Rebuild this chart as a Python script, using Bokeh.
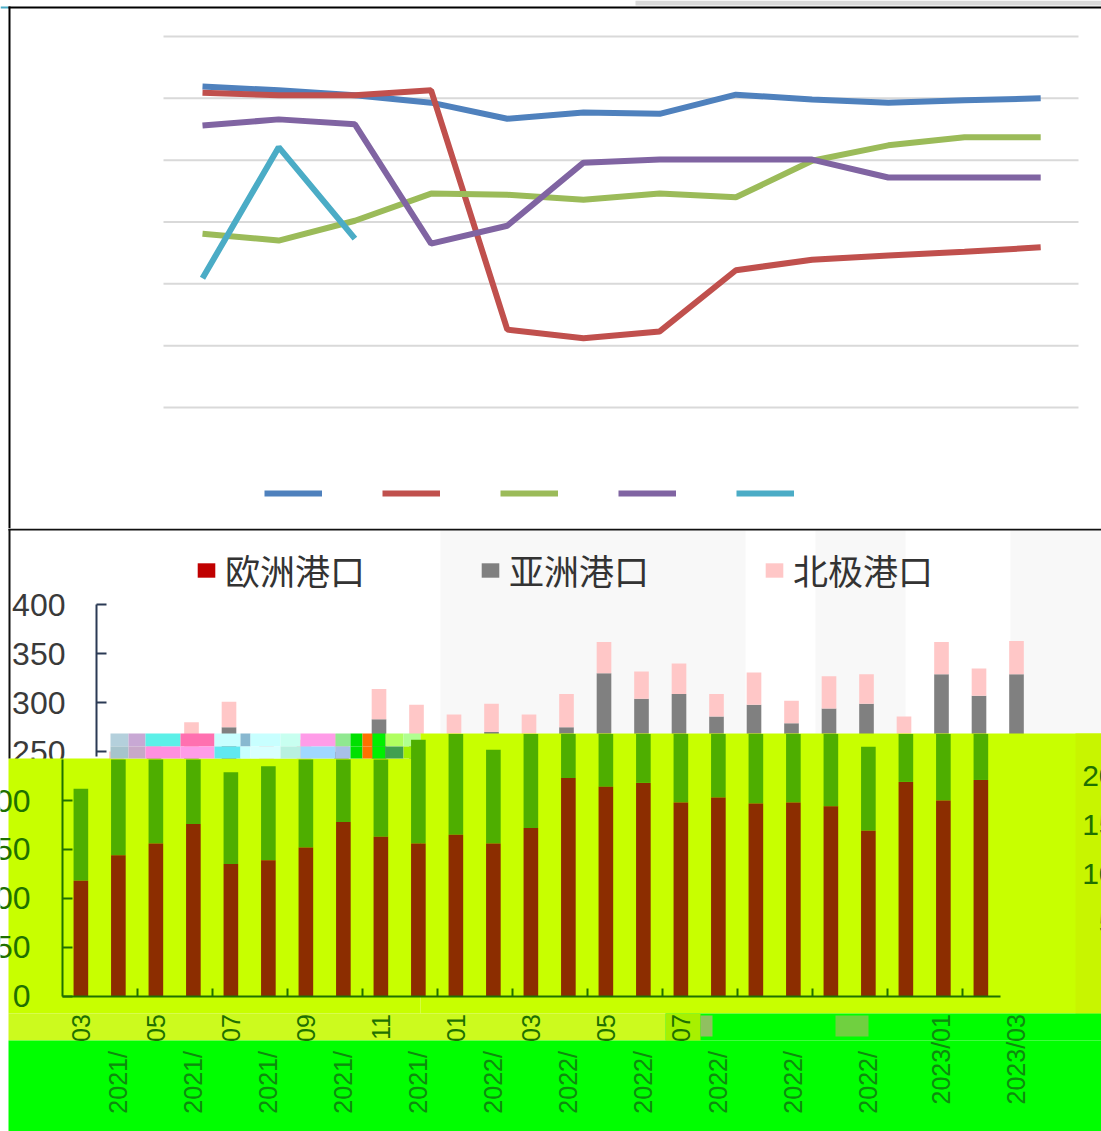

from bokeh.plotting import figure
from bokeh.layouts import column
from bokeh.models import (BoxAnnotation, FixedTicker, Legend, LegendItem, LinearAxis, Range1d)
from bokeh.embed import file_html
from bokeh.resources import INLINE
from bokeh.core.properties import value
import numpy as np
import math

# ---------- top chart data ----------
line_x = list(range(12))
blue = [51.9, 51.3, 50.5, 49.3, 46.7, 47.7, 47.5, 50.6, 49.8, 49.3, 49.7, 50.0]
red = [50.9, 50.5, 50.5, 51.3, 12.6, 11.2, 12.3, 22.2, 23.9, 24.6, 25.2, 25.9]
green = [28.1, 27.0, 30.2, 34.6, 34.4, 33.6, 34.6, 34.0, 39.9, 42.4, 43.7, 43.7]
purple = [45.6, 46.6, 45.8, 26.5, 29.4, 39.6, 40.1, 40.1, 40.1, 37.2, 37.2, 37.2]
teal = [20.9, 42.1, 27.3]
grid_values = [0, 10, 20, 30, 40, 50, 60]

# ---------- bottom chart data ----------
europe = [118, 144, 156, 176, 135, 139, 152, 178, 163, 156, 165, 156, 172, 223, 214, 218, 198, 203, 197, 198, 194, 169, 219, 200, 221]
asia = [94, 101, 94, 99, 94, 96, 98, 105, 97, 106, 105, 96, 103, 107, 90, 91, 88, 95, 82, 96, 105, 86, 110, 107, 108]
arctic = [38, 13, 30, 26, 31, 27, 18, 31, 38, 26, 29, 36, 34, 32, 28, 31, 23, 33, 23, 33, 30, 31, 33, 28, 34]
legend_names = ["欧洲港口", "亚洲港口", "北极港口"]
upper_ticks = [250, 300, 350, 400]
lower_ticks = [0, 50, 100, 150, 200]
lower_tick_labels = ["0", "50", "00", "50", "00"]
right_tick_values = [225, 175, 125, 75]
right_tick_labels = ["20", "15", "10", "5"]
month_labels = ["03", "05", "07", "09", "11", "01", "03", "05", "07"]
year_labels = ["2021/"] * 5 + ["2022/"] * 6
full_labels = ["2023/01", "2023/03"]

W, H1, H2 = 1101, 528, 603
FONT = "Liberation Sans"


def box(p, left, right, top, bottom, color, ox, oy, level="underlay"):
    p.add_layout(BoxAnnotation(left=left - ox, right=right - ox, top=top - oy, bottom=bottom - oy,
                               left_units="canvas", right_units="canvas", top_units="canvas", bottom_units="canvas",
                               fill_color=color, fill_alpha=1, line_color=None, level=level,
                               editable=False))


# ========== top chart ==========
t = figure(width=W, height=H1, output_backend="svg", toolbar_location=None, min_border=0,
           x_axis_location=None, y_axis_location=None, outline_line_color=None,
           x_range=Range1d((0 - 202) / 76.2, (1101 - 202) / 76.2),
           y_range=Range1d((407 - 528) / 6.183, (407 - 0) / 6.183))
t.grid.visible = False
t.segment(x0=[(163 - 202) / 76.2] * 7, x1=[(1078 - 202) / 76.2] * 7, y0=grid_values, y1=grid_values,
          line_color="#D9D9D9", line_width=2, level="underlay")
items = []
for name, ys, col in [("a", blue, "#4F81BD"), ("b", red, "#C0504D"), ("c", green, "#9BBB59"),
                      ("d", purple, "#8064A2"), ("e", teal, "#4BACC6")]:
    r = t.line(line_x[:len(ys)], ys, line_color=col, line_width=6)
    items.append(LegendItem(label="", renderers=[r]))
leg = Legend(items=items, orientation="horizontal", location=(264, 25), glyph_width=58, glyph_height=20,
             label_standoff=0, spacing=60, padding=0, margin=0, border_line_color=None,
             background_fill_alpha=0, label_text_font_size="1px", label_width=0, label_height=1)
t.add_layout(leg, "center")
box(t, 635, 1101, 0, 5, "#DADADA", 0, 0, "overlay")
box(t, 0, 8, 6, 8, "#4BACC6", 0, 0, "overlay")
box(t, 8, 1101, 6, 8, "#000000", 0, 0, "overlay")
box(t, 8, 10, 6, 528, "#000000", 0, 0, "overlay")

# ========== bottom chart ==========
XS, STEP, Y0, UNIT = 116.0, 37.5, 995.6, 0.978
p = figure(width=W, height=H2, output_backend="svg", toolbar_location=None, min_border=0,
           x_axis_location=None, y_axis_location=None, outline_line_color=None,
           x_range=Range1d((0 - XS) / STEP, (1101 - XS) / STEP),
           y_range=Range1d((Y0 - 1131) / UNIT, (Y0 - 528) / UNIT))
p.grid.visible = False
OX, OY = 0, 528

# faint watermark
for l, r_ in [(440, 745), (815, 905), (1010, 1101)]:
    box(p, l, r_, 530, 733, "#F8F8F8", OX, OY, "image")

idx = np.arange(25)
eu, asi, arc = np.array(europe), np.array(asia), np.array(arctic)
WID = 0.39
r_eu = p.vbar(x=idx, bottom=0, top=eu, width=WID, fill_color="#C00000", line_color=None, level="underlay")
r_as = p.vbar(x=idx, bottom=eu, top=eu + asi, width=WID, fill_color="#808080", line_color=None, level="underlay")
r_ar = p.vbar(x=idx, bottom=eu + asi, top=eu + asi + arc, width=WID, fill_color="#FFC7C7", line_color=None, level="underlay")

# blocks that overlay the lower part of the chart
LIME = "#C8FF00"
box(p, 8, 420, 758, 1013, LIME, OX, OY)
box(p, 420, 1101, 733, 1013, LIME, OX, OY)
box(p, 1075, 1101, 733, 1013, "#C8F500", OX, OY)
box(p, 8, 665, 1013, 1040, "#CCFA1E", OX, OY)
box(p, 8, 1101, 1040, 1131, "#00FF00", OX, OY)
box(p, 665, 1101, 1013, 1040, "#00FF00", OX, OY)
box(p, 665, 700, 1013, 1040, "#A8F000", OX, OY)
box(p, 700, 712, 1015, 1036, "#90C060", OX, OY)
box(p, 835, 868, 1015, 1036, "#70D040", OX, OY)
mosaic = [(110, 128, "#B4D0DC", "#A6C4CC"), (128, 145, "#C8A8D4", "#C8A8C8"), (145, 180, "#5CF0E8", "#FF90E0"),
          (180, 214, "#FF70B0", "#FF9CE8"), (214, 240, "#C8FFFF", "#60E8F0"), (240, 250, "#88B8D0", "#C8FFFF"),
          (250, 280, "#C8FFFF", "#D8FFFF"), (280, 300, "#C8FFF0", "#B8F0E0"), (300, 335, "#FF9CE8", "#A0D8FF"),
          (335, 350, "#90E890", "#A8C0E8"), (350, 362, "#00E000", "#00E000"), (362, 372, "#FF7000", "#FF7000"),
          (372, 385, "#00F000", "#00F000"), (385, 403, "#B0FF60", "#40A050"), (403, 420, "#B0FF90", "#A0F000")]
for l, r_, c1, c2 in mosaic:
    box(p, l, r_, 733, 746, c1, OX, OY)
    box(p, l, r_, 746, 758, c2, OX, OY)

# lower layer: same bars seen through the lime block, one slot to the left
SHIFT = 0.95
limit = np.where(idx < 9, 242, 268)
p.vbar(x=idx - SHIFT, bottom=np.minimum(eu, limit), top=np.minimum(eu + asi, limit), width=WID,
       fill_color="#4EAE00", line_color=None)
p.vbar(x=idx - SHIFT, bottom=0, top=eu, width=WID, fill_color="#8C2D00", line_color=None)


# axes
def tick_axis(loc, ticks, labels, color, standoff, font_size, bounds, line=True, tick_in=0, level="guide", size_w=2):
    return LinearAxis(fixed_location=loc, ticker=FixedTicker(ticks=ticks), bounds=bounds,
                      major_label_overrides={k: v for k, v in zip(ticks, labels)},
                      major_tick_in=tick_in, major_tick_out=0, minor_tick_line_color=None,
                      major_tick_line_color=color, major_tick_line_width=size_w,
                      axis_line_color=color if line else None, axis_line_width=size_w,
                      major_label_text_color=color, major_label_text_font=FONT,
                      major_label_text_font_size=font_size, major_label_standoff=standoff, level=level)


ux = (96 - XS) / STEP
lx = (62 - XS) / STEP
ua = tick_axis(ux, upper_ticks, [str(v) for v in upper_ticks], "#2B3A55", 31, "32px", (245, 400),
               tick_in=10, level="image")
ua.major_label_text_color = "#3A3A3A"
p.add_layout(ua, "left")
p.add_layout(tick_axis(lx, lower_ticks, lower_tick_labels, "#1F7000", 32, "32px", (0, 242), tick_in=10), "left")

# bottom axis: line with its ticks (minor ticks carry no labels)
bot_ticks = [(137 + 75 * k - XS) / STEP for k in range(12)]
ax = tick_axis(0, [], [], "#1F7000", 5, "1px", (lx, (1000 - XS) / STEP))
ax.ticker = FixedTicker(ticks=[], minor_ticks=bot_ticks)
ax.minor_tick_line_color = "#1F7000"
ax.minor_tick_line_width = 2
ax.minor_tick_in = 8
ax.minor_tick_out = 0
p.add_layout(ax, "below")
for loc_labels, ticks, standoff, col in [
    (month_labels, [(81 + 75 * k - XS) / STEP for k in range(9)], 18, "#1F7000"),
    (year_labels, [2 * k + 0.05 for k in range(11)], 55, "#0E8A0E"),
    (full_labels, [22, 24], 18, "#0E8A0E"),
]:
    a = tick_axis(0, ticks, loc_labels, col, standoff, "25px", (min(ticks), max(ticks)), line=False)
    a.major_label_orientation = math.pi / 2
    p.add_layout(a, "below")

# right-hand labels
p.text(x=[(1115 - XS) / STEP] * 4, y=right_tick_values, text=right_tick_labels, text_align="right",
       text_baseline="middle", text_font=value(FONT), text_font_size="30px", text_color="#1F7000")

# legend
bar_leg = Legend(items=[LegendItem(label=n, renderers=[r]) for n, r in zip(legend_names, [r_eu, r_as, r_ar])],
                 orientation="horizontal", location=(195, 536), glyph_width=22, glyph_height=18,
                 label_standoff=8, spacing=114, padding=0, margin=0, border_line_color=None,
                 background_fill_alpha=0, label_text_font="Noto Sans CJK SC", label_text_font_size="35px",
                 label_text_color="#333333")
p.add_layout(bar_leg, "center")

box(p, 8, 1101, 528, 530, "#111111", OX, OY, "overlay")
box(p, 8, 10, 528, 758, "#111111", OX, OY, "overlay")

layout = column(t, p, spacing=0)
open("out.html", "w").write(file_html(layout, INLINE))
